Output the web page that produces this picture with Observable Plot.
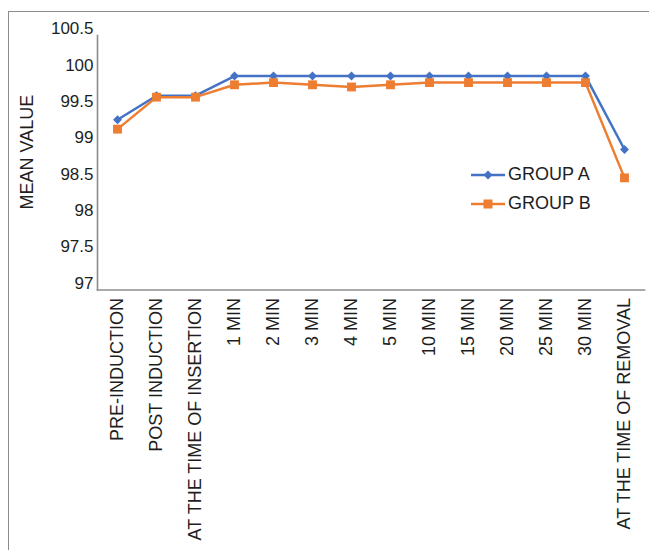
<!DOCTYPE html>
<html>
<head>
<meta charset="utf-8">
<script src="https://cdn.jsdelivr.net/npm/d3@7"></script>
<script src="https://cdn.jsdelivr.net/npm/@observablehq/plot@0.6"></script>
<style>
  html, body { margin: 0; padding: 0; background: #fff; overflow: hidden; }
  #wrap { position: relative; width: 649px; height: 550px; font-family: "Liberation Sans", Arial, sans-serif; color: #1e1e1e; }
  #border { position: absolute; left: 8px; top: 11px; width: 700px; height: 600px;
            border-left: 1.5px solid #8c8c8c; border-top: 1.5px solid #8c8c8c; box-sizing: border-box; }
  #chart { position: absolute; left: 0; top: 0; }
  #legend { position: absolute; left: 471px; top: 160px; font-size: 18px; }
  .item { display: flex; align-items: center; height: 29px; }
  .item span { margin-left: 3px; }
</style>
</head>
<body>
<div id="wrap">
  <div id="border"></div>
  <div id="chart"></div>
  <div id="legend"></div>
</div>
<script>
// Time points along the x axis
const categories = [
  "PRE-INDUCTION", "POST INDUCTION", "AT THE TIME OF INSERTION",
  "1 MIN", "2 MIN", "3 MIN", "4 MIN", "5 MIN", "10 MIN", "15 MIN",
  "20 MIN", "25 MIN", "30 MIN", "AT THE TIME OF REMOVAL"
];

// Mean values per group
const groupA = [99.25, 99.58, 99.58, 99.85, 99.85, 99.85, 99.85, 99.85, 99.85, 99.85, 99.85, 99.85, 99.85, 98.84];
const groupB = [99.12, 99.56, 99.56, 99.73, 99.76, 99.73, 99.70, 99.73, 99.76, 99.76, 99.76, 99.76, 99.76, 98.45];

const seriesNames = ["GROUP A", "GROUP B"];
const seriesColors = ["#4472C4", "#ED7D31"];

// Y axis tick values
const yTicks = [97, 97.5, 98, 98.5, 99, 99.5, 100, 100.5];
const yTitle = "MEAN VALUE";

const rowsA = categories.map((c, i) => ({cat: c, v: groupA[i]}));
const rowsB = categories.map((c, i) => ({cat: c, v: groupB[i]}));

const axisColor = "#8c8c8c";

const chart = Plot.plot({
  width: 649,
  height: 550,
  marginLeft: 97,
  marginRight: 5,
  marginTop: 35,
  marginBottom: 260.5,
  style: {
    fontFamily: '"Liberation Sans", Arial, sans-serif',
    fontSize: "17px",
    color: "#1e1e1e",
    background: "transparent",
    overflow: "visible"
  },
  x: {type: "point", domain: categories, padding: 0.5, label: null},
  y: {domain: [97, 100.5], range: [282.8, 28.3], label: null},
  marks: [
    Plot.axisY({ticks: yTicks, tickFormat: d => String(d), tickSize: 0, tickPadding: 4, label: null}),
    Plot.axisX({tickRotate: -90, tickSize: 0, tickPadding: 8, label: null, fontSize: 18}),
    Plot.frame({anchor: "left", stroke: axisColor, strokeWidth: 1.6}),
    Plot.frame({anchor: "bottom", stroke: axisColor, strokeWidth: 1.6}),
    // axis title, centred on the span of the tick labels
    Plot.text([yTitle], {y: () => d3.mean(d3.extent(yTicks)), frameAnchor: "left", textAnchor: "middle",
      dx: -70, dy: -4, rotate: -90, fontSize: 18}),
    Plot.line(rowsA, {x: "cat", y: "v", stroke: seriesColors[0], strokeWidth: 2.5}),
    Plot.dot(rowsA, {x: "cat", y: "v", symbol: "diamond2", r: 4, fill: seriesColors[0], stroke: null}),
    Plot.line(rowsB, {x: "cat", y: "v", stroke: seriesColors[1], strokeWidth: 2.5}),
    Plot.dot(rowsB, {x: "cat", y: "v", symbol: "square", r: 5, fill: seriesColors[1], stroke: null})
  ]
});
document.getElementById("chart").appendChild(chart);

// Legend entries: line swatch with marker, then name
const legend = d3.select("#legend");
seriesNames.forEach((name, i) => {
  const item = legend.append("div").attr("class", "item");
  const svg = item.append("svg").attr("width", 34).attr("height", 14);
  svg.append("line").attr("x1", 0).attr("x2", 34).attr("y1", 7).attr("y2", 7)
    .attr("stroke", seriesColors[i]).attr("stroke-width", 2.5);
  if (i === 0) {
    svg.append("path").attr("d", "M17,2.5L21.5,7L17,11.5L12.5,7Z").attr("fill", seriesColors[i]);
  } else {
    svg.append("rect").attr("x", 12.5).attr("y", 2.5).attr("width", 9).attr("height", 9).attr("fill", seriesColors[i]);
  }
  item.append("span").text(name);
});
</script>
</body>
</html>
